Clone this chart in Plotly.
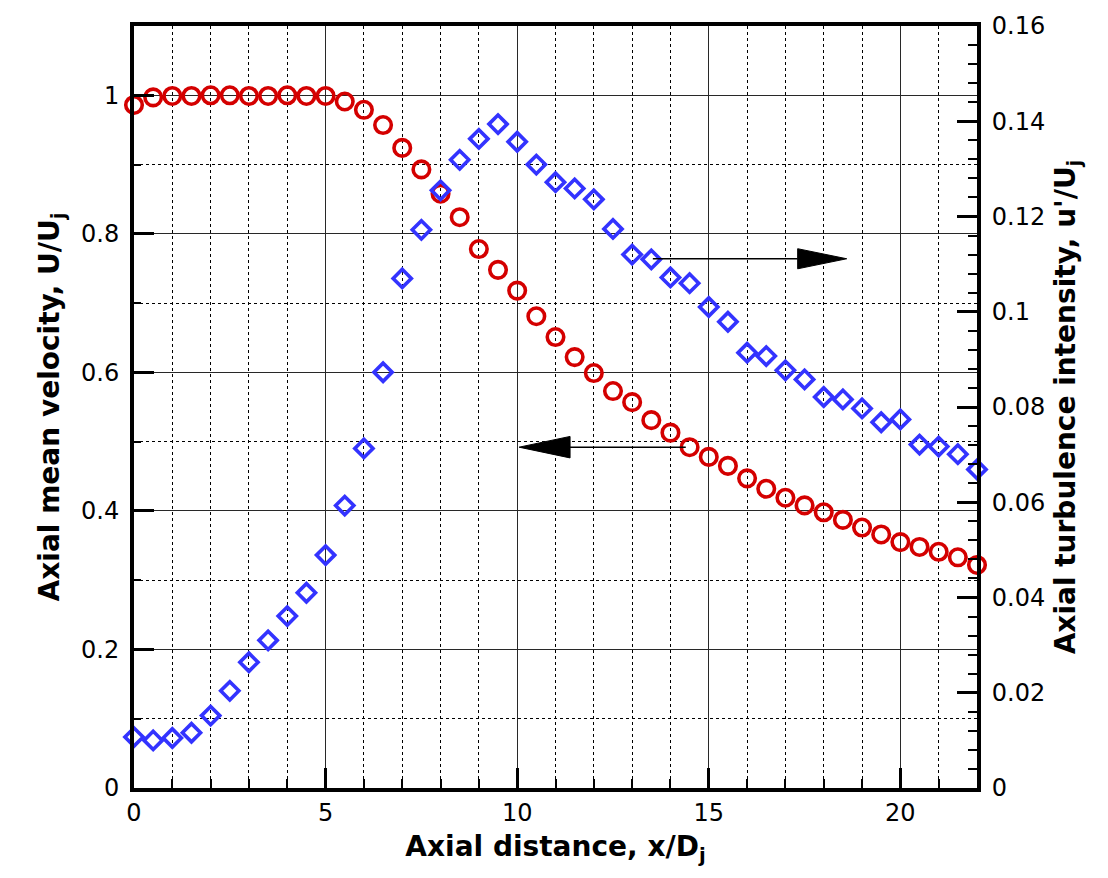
import plotly.graph_objects as go

# Axial stations x/Dj (every half diameter)
x_d = [i * 0.5 for i in range(45)]

# Axial mean velocity U/Uj (left axis)
u_mean = [0.986, 0.997, 0.999, 0.999, 1.0, 1.0, 0.999, 0.999, 1.0, 0.999,
          0.999, 0.991, 0.979, 0.957, 0.924, 0.893, 0.858, 0.824, 0.778, 0.748,
          0.718, 0.681, 0.651, 0.622, 0.599, 0.573, 0.557, 0.531, 0.513, 0.492,
          0.478, 0.465, 0.447, 0.432, 0.419, 0.408, 0.398, 0.387, 0.376, 0.366,
          0.355, 0.348, 0.341, 0.333, 0.322]

# Axial turbulence intensity u'/Uj (right axis)
u_rms = [0.0107, 0.0100, 0.0105, 0.0116, 0.0152, 0.0204, 0.0264, 0.0310, 0.0361, 0.0410,
         0.0489, 0.0593, 0.0713, 0.0873, 0.1070, 0.1172, 0.1255, 0.1319, 0.1363, 0.1394,
         0.1357, 0.1309, 0.1272, 0.1259, 0.1236, 0.1174, 0.1120, 0.1110, 0.1072, 0.1060,
         0.1010, 0.0979, 0.0914, 0.0907, 0.0877, 0.0858, 0.0821, 0.0816, 0.0797, 0.0768,
         0.0774, 0.0721, 0.0717, 0.0701, 0.0669]

x_ticks = [0, 5, 10, 15, 20]
y_ticks = [0, 0.2, 0.4, 0.6, 0.8, 1.0]
y2_ticks = [0, 0.02, 0.04, 0.06, 0.08, 0.1, 0.12, 0.14, 0.16]

# Pointer arrows (left-axis coordinates): [tail x, head base x, tip x, y, half head height]
arrow_right = [13.54, 17.32, 18.6, 0.764, 0.0145]
arrow_left = [14.4, 11.38, 10.05, 0.492, 0.0155]

FONT = "DejaVu Sans, Liberation Sans, Arial, sans-serif"
RED = "rgb(212,0,0)"
BLUE = "rgb(51,51,255)"

fig = go.Figure()

fig.add_trace(go.Scatter(
    x=x_d, y=u_mean, mode="markers", yaxis="y",
    marker=dict(symbol="circle-open", size=16.5, color=RED, line=dict(width=3.6, color=RED)),
    showlegend=False, cliponaxis=False,
))
fig.add_trace(go.Scatter(
    x=x_d, y=u_rms, mode="markers", yaxis="y2",
    marker=dict(symbol="diamond-open", size=14, color=BLUE, line=dict(width=3.6, color=BLUE)),
    showlegend=False, cliponaxis=False,
))

shapes = []
for tail, base, tip, yv, hh in (arrow_right, arrow_left):
    shapes.append(dict(type="line", xref="x", yref="y", x0=tail, x1=base, y0=yv, y1=yv,
                       line=dict(color="black", width=1.5)))
    shapes.append(dict(type="path", xref="x", yref="y",
                       path=f"M {base} {yv - hh} L {tip} {yv} L {base} {yv + hh} Z",
                       fillcolor="black", line=dict(color="black", width=1)))

tick_font = dict(family=FONT, size=24, color="black")
title_font = dict(family=FONT, size=28, color="black")

fig.update_layout(
    width=1108, height=878,
    margin=dict(l=134, r=131, t=18, b=90),
    paper_bgcolor="white", plot_bgcolor="white",
    shapes=shapes,
    xaxis=dict(
        range=[0, 22], tickvals=x_ticks, ticktext=[str(v) for v in x_ticks],
        ticks="inside", ticklen=20, tickwidth=3, tickcolor="black",
        showline=True, linewidth=4, linecolor="black", mirror=True,
        showgrid=True, gridcolor="rgb(40,40,40)", gridwidth=1.2,
        zeroline=False, tickfont=tick_font,
        minor=dict(dtick=1, ticks="inside", ticklen=9, tickwidth=1.5, tickcolor="black",
                   showgrid=True, gridcolor="black", gridwidth=1, griddash="dot"),
        title=dict(text="<b>Axial distance, x/D<sub>j</sub></b>", font=title_font, standoff=12),
    ),
    yaxis=dict(
        range=[0, 1.1], tickvals=y_ticks, ticktext=["0", "0.2", "0.4", "0.6", "0.8", "1"],
        ticks="inside", ticklen=20, tickwidth=3, tickcolor="black",
        showline=True, linewidth=4, linecolor="black",
        showgrid=True, gridcolor="rgb(40,40,40)", gridwidth=1.2,
        zeroline=False, tickfont=tick_font, ticklabelstandoff=6,
        minor=dict(dtick=0.1, ticks="inside", ticklen=7, tickwidth=1.5, tickcolor="black",
                   showgrid=True, gridcolor="black", gridwidth=1, griddash="dot"),
        title=dict(text="<b>Axial mean velocity, U/U<sub>j</sub></b>", font=title_font, standoff=14),
    ),
    yaxis2=dict(
        range=[0, 0.16], overlaying="y", side="right",
        tickvals=y2_ticks, ticktext=["0", "0.02", "0.04", "0.06", "0.08", "0.1", "0.12", "0.14", "0.16"],
        ticks="inside", ticklen=20, tickwidth=3, tickcolor="black",
        showline=True, linewidth=4, linecolor="black",
        showgrid=False, zeroline=False, tickfont=tick_font, ticklabelstandoff=6,
        minor=dict(dtick=0.004, ticks="inside", ticklen=9, tickwidth=1.5, tickcolor="black",
                   showgrid=False),
        title=dict(text="<b>Axial turbulence intensity, u'/U<sub>j</sub></b>", font=title_font, standoff=12),
    ),
)

fig.write_html("out.html")
